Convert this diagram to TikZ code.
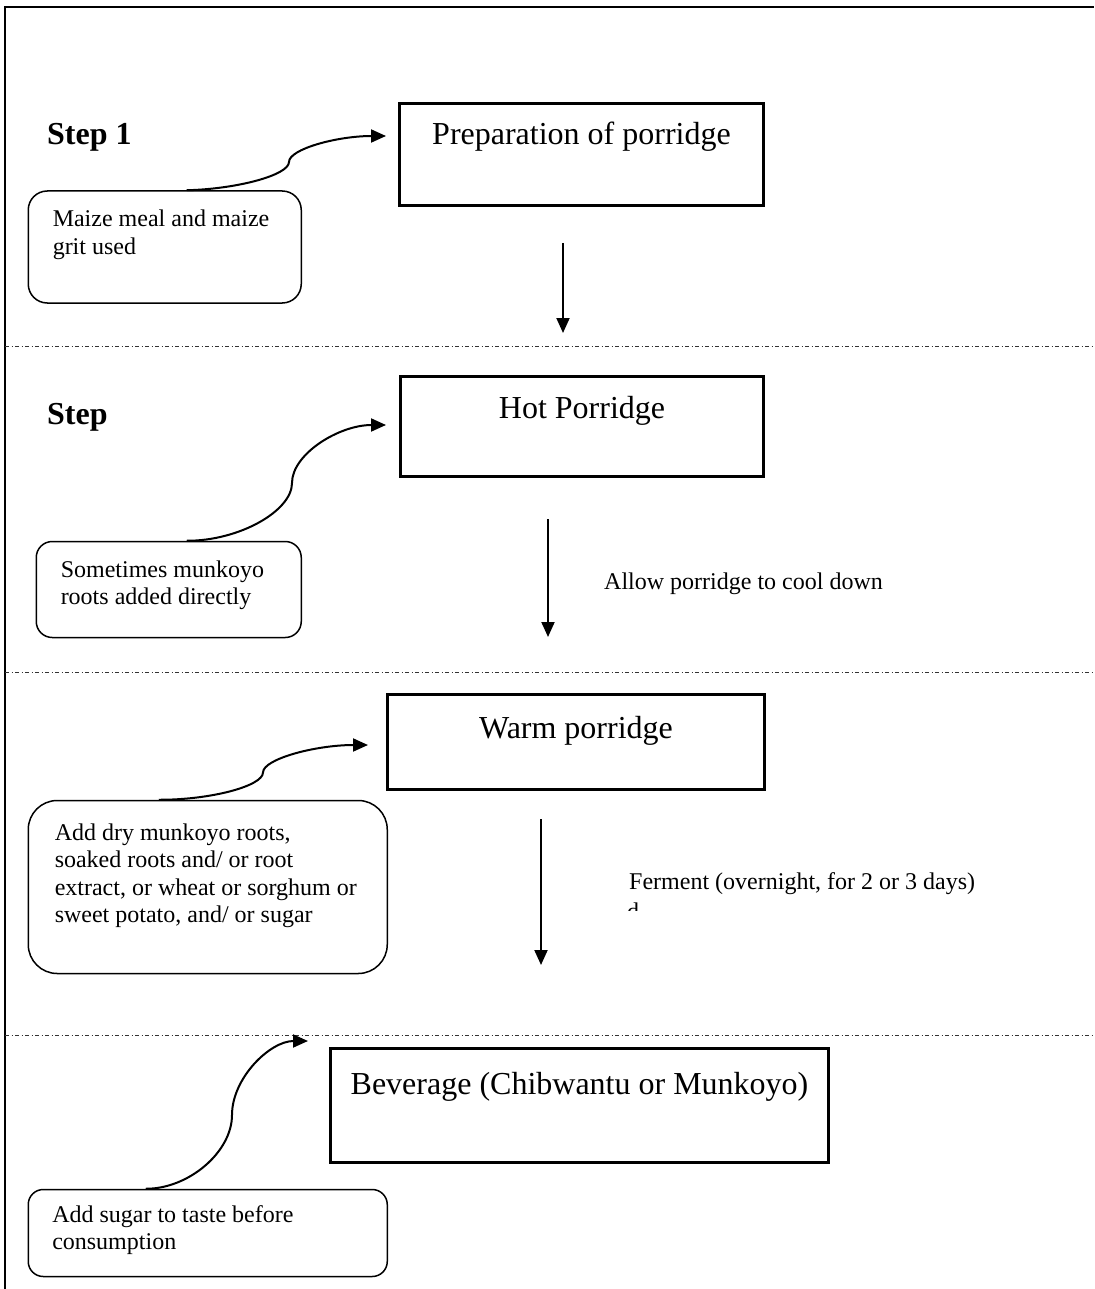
\documentclass[tikz,border=0pt]{standalone}
\usepackage{fontspec}
\setmainfont{Liberation Serif}
\usetikzlibrary{arrows.meta,calc}
\tikzset{
  big/.style={font=\fontsize{32}{36.8}\selectfont},
  small/.style={font=\fontsize{24}{27.6}\selectfont},
  steplabel/.style={font=\fontsize{32}{36.8}\selectfont\bfseries, anchor=base west, inner sep=0pt},
  plainlabel/.style={small, anchor=base west, inner sep=0pt},
  stepbox/.style={draw, line width=3pt, inner sep=0pt, big, anchor=base},
  notebox/.style={draw, line width=1.5pt, inner ysep=0pt, align=left, small, anchor=base west,
    execute at begin node={\spaceskip=0pt\xspaceskip=0pt\relax}},
  flow/.style={line width=2pt, -{Triangle[length=15pt,width=13pt]}},
  divider/.style={line width=1pt, black!80, dash pattern=on 4pt off 2.5pt on 1pt off 2.5pt},
  frame/.style={line width=2pt}
}
\begin{document}
\begin{tikzpicture}[x=1pt,y=-1pt]
\useasboundingbox (0,0) rectangle (1094,1289);

% outer frame
\draw[frame] (5,1289) -- (5,7) -- (1094,7);

% dividers
\draw[divider] (5,346) -- (1094,346);
\draw[divider] (5,672) -- (1094,672);
\draw[divider] (5,1035) -- (1094,1035);

% step labels
\node[steplabel] (s1) at (47,145) {Step 1};
\node[steplabel] (s2) at (47,424) {Step};

% main boxes
\node[stepbox, minimum width=364pt, text height=41.5pt, text depth=60.5pt] (b1) at (581.5,145) {Preparation of porridge};
\node[stepbox, minimum width=363pt, text height=41.5pt, text depth=58.5pt] (b2) at (582,418) {Hot Porridge};
\node[stepbox, minimum width=377pt, text height=43.5pt, text depth=51.5pt] (b3) at (576,738) {Warm porridge};
\node[stepbox, minimum width=498pt, text height=45.5pt, text depth=68.5pt] (b4) at (579.5,1094) {Beverage (Chibwantu or Munkoyo)};

% note boxes
\node[notebox, rounded corners=19pt, inner xsep=24.5pt, text width=224pt, text height=36pt, text depth=76pt] (n1) at (27.5,227) {\mbox{Maize meal and maize}\\\mbox{grit used}};
\node[notebox, rounded corners=16pt, inner xsep=24.5pt, text width=216pt, text height=35.5pt, text depth=60.5pt] (n2) at (35.5,577) {\mbox{Sometimes munkoyo}\\\mbox{roots added directly}};
\node[notebox, rounded corners=29pt, inner xsep=26.5pt, text width=306pt, text height=39.5pt, text depth=133.5pt] (n3) at (27.5,840) {\mbox{Add dry munkoyo roots,}\\\mbox{soaked roots and/ or root}\\\mbox{extract, or wheat or sorghum or}\\\mbox{sweet potato, and/ or sugar}};
\node[notebox, rounded corners=15pt, inner xsep=24pt, text width=311pt, text height=32.5pt, text depth=54.5pt] (n4) at (27.5,1222) {\mbox{Add sugar to taste before}\\\mbox{consumption}};

% side labels
\node[plainlabel] (l1) at (604,589) {Allow porridge to cool down};
\node[plainlabel] (l2) at (629,889) {Ferment (overnight, for 2 or 3 days)};
\begin{scope}
  \clip (615,898) rectangle (660,910.5);
  \node[plainlabel] (l3) at (627,919.5) {d};
\end{scope}

% curved connectors
\coordinate (e1) at (386,136);
\coordinate (e2) at (386,425);
\coordinate (e3) at (368,745);
\coordinate (e4) at (308,1041);
\draw[flow] ([xshift=22pt]n1.north) .. controls (237.5,189) and (289,175) .. (289,162) .. controls (289,149) and (337.5,136) .. (e1);
\draw[flow] ([xshift=18pt]n2.north) .. controls (239,541) and (292,511) .. (292,483) .. controls (292,454) and (339,425) .. (e2);
\draw[flow] ([xshift=-49pt]n3.north) .. controls (210.5,800) and (263,786) .. (263,772.5) .. controls (263,759) and (315.5,745) .. (e3);
\draw[flow] ([xshift=-62pt]n4.north) .. controls (188.5,1189) and (232,1152) .. (232,1115) .. controls (232,1078) and (270,1041) .. (e4);

% straight arrows
\coordinate (t1) at (563,243); \coordinate (h1) at (563,333);
\coordinate (t2) at (548,519); \coordinate (h2) at (548,637);
\coordinate (t3) at (541,819); \coordinate (h3) at (541,965);
\draw[flow] (t1) -- (h1);
\draw[flow] (t2) -- (h2);
\draw[flow] (t3) -- (h3);
\end{tikzpicture}
\end{document}
